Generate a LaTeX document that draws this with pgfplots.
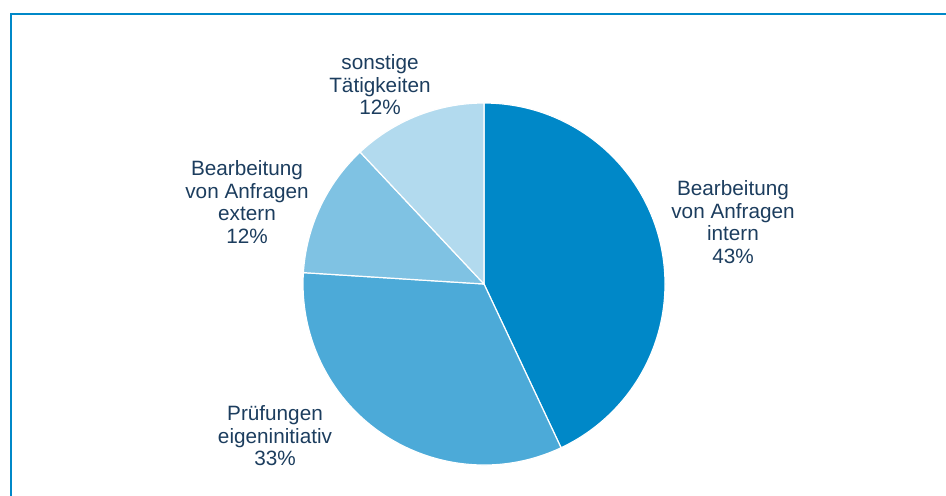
\documentclass[border=0pt]{standalone}
\usepackage{pgfplots}
\usepackage{pgfplotstable}
\pgfplotsset{compat=1.18}
\usepackage{fontspec}
\setmainfont{Liberation Sans}
\definecolor{cIntern}{HTML}{0088C8}
\definecolor{cPruef}{HTML}{4CAAD8}
\definecolor{cExtern}{HTML}{7FC2E3}
\definecolor{cSonst}{HTML}{B2DAEE}
\definecolor{txt}{HTML}{1C3D5E}
\definecolor{frame}{HTML}{0088C8}

\pgfplotstableread[col sep=comma]{
key,value
intern,43
pruef,33
extern,12
sonst,12
}\piedata
\pgfplotstablecreatecol[expr accum={\pgfmathaccuma + \thisrow{value}}{0}]{cum}\piedata

\begin{document}
\begin{tikzpicture}
\begin{axis}[
  at={(0,0)}, anchor=south west,
  width=946bp, height=496bp, scale only axis,
  xmin=0, xmax=946, ymin=0, ymax=496,
  hide axis, clip=false,
]
\pgfplotsextra{
  \foreach \i/\col in {0/cIntern,1/cPruef,2/cExtern,3/cSonst}{
    \pgfplotstablegetelem{\i}{value}\of\piedata \let\v\pgfplotsretval
    \pgfplotstablegetelem{\i}{cum}\of\piedata \let\c\pgfplotsretval
    \pgfmathsetmacro\sa{90-3.6*(\c-\v)}
    \pgfmathsetmacro\ea{90-3.6*\c}
    \fill[\col, draw=white, line width=1.2bp, line join=round]
      (axis cs:484,212) -- ++(\sa:181bp) arc[start angle=\sa, end angle=\ea, radius=181bp] -- cycle;
  }
  \draw[frame, line width=2.6bp] (axis cs:11,-2) -- (axis cs:11,482) -- (axis cs:950,482);
}
\begin{scope}[every node/.style={align=center, text=txt, font=\fontsize{20.8}{22.6}\selectfont}]
\node at (axis cs:380,411) {sonstige\\Tätigkeiten\\12\%};
\node at (axis cs:733,274) {Bearbeitung\\von Anfragen\\intern\\43\%};
\node at (axis cs:247,294) {Bearbeitung\\von Anfragen\\extern\\12\%};
\node at (axis cs:275,60) {Prüfungen\\eigeninitiativ\\33\%};
\end{scope}
\end{axis}
\pgfresetboundingbox
\useasboundingbox (0,0) rectangle (946bp,496bp);
\end{tikzpicture}
\end{document}
